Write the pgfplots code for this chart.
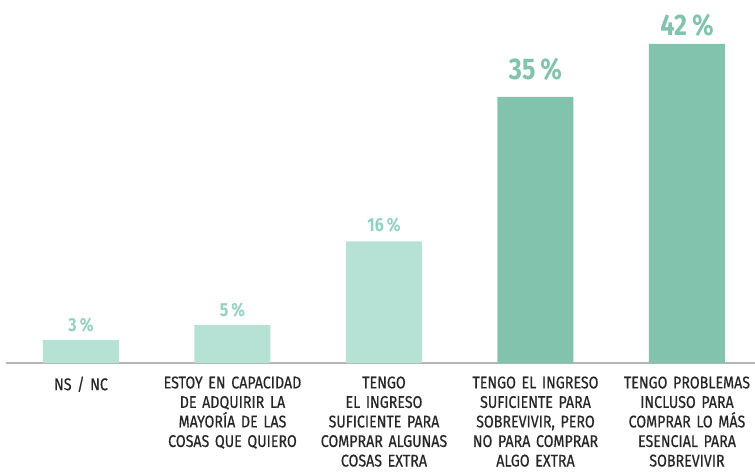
\documentclass[border=0pt]{standalone}
\usepackage{fontspec}
\setmainfont{Fira Sans}[FakeStretch=0.84]
\newfontfamily\labfont{Fira Sans}[FakeStretch=0.84, FakeBold=0.5]
\usepackage{pgfplots}
\pgfplotsset{compat=1.18}
\definecolor{lightbar}{HTML}{B5E2D4}
\definecolor{darkbar}{HTML}{82C3AE}
\definecolor{lightlab}{HTML}{93D1C5}
\definecolor{axisgray}{HTML}{B4B4B4}
\begin{document}
\begin{tikzpicture}
\useasboundingbox (-6bp,-110bp) rectangle (749bp,363bp);
\begin{axis}[
  /pgf/number format/assume math mode=true,
  scale only axis,
  width=749bp, height=363bp,
  xmin=-0.495, xmax=4.449,
  ymin=0, ymax=47.76,
  axis x line=bottom,
  axis y line=none,
  axis line style={axisgray, line width=1.6bp, -},
  xtick={0,1,2,3,4},
  major tick length=0pt,
  xticklabels={
    {NS / NC},
    {ESTOY EN CAPACIDAD\\DE ADQUIRIR LA\\MAYORÍA DE LAS\\COSAS QUE QUIERO},
    {TENGO\\EL INGRESO\\SUFICIENTE PARA\\COMPRAR ALGUNAS\\COSAS EXTRA},
    {TENGO EL INGRESO\\SUFICIENTE PARA\\SOBREVIVIR, PERO\\NO PARA COMPRAR\\ALGO EXTRA},
    {TENGO PROBLEMAS\\INCLUSO PARA\\COMPRAR LO MÁS\\ESENCIAL PARA\\SOBREVIVIR}},
  xticklabel style={font=\labfont\fontsize{17}{19.6}\selectfont, text width=160bp, align=center, anchor=north, yshift=-10bp, text=black!85},
  ytick=\empty,
  clip=false,
  ybar, bar width=76bp,
  nodes near coords={\pgfmathprintnumber{\pgfplotspointmeta}\,\%},
  point meta=explicit,
  visualization depends on={\thisrow{s} \as \lshift},
]
\addplot[fill=lightbar, draw=none, bar shift=0pt,
  every node near coord/.append style={text=lightlab, font=\fontsize{19}{20}\bfseries, anchor=south, yshift=\lshift}]
  table[x=x, y=y, meta=y] {
x y s
0 3 4bp
1 5 4bp
2 16 6bp
};
\addplot[fill=darkbar, draw=none, bar shift=0pt,
  every node near coord/.append style={text=darkbar, font=\fontsize{30}{32}\bfseries, anchor=south, yshift=\lshift}]
  table[x=x, y=y, meta=y] {
x y s
3 35 13bp
4 42 4bp
};
\end{axis}
\end{tikzpicture}
\end{document}
